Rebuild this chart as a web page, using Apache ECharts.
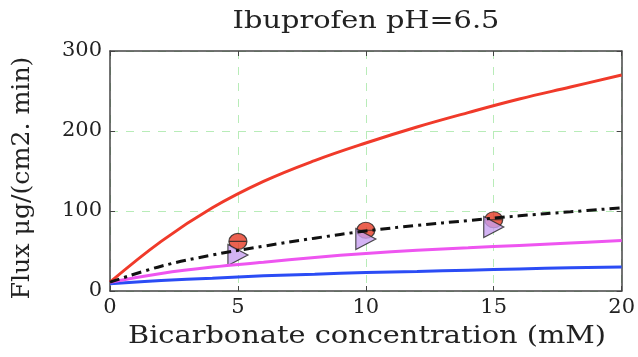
<!DOCTYPE html>
<html>
<head>
<meta charset="utf-8">
<script src="https://cdn.jsdelivr.net/npm/echarts@6/dist/echarts.min.js"></script>
<style>html,body{margin:0;padding:0;background:#fff;}#c{width:638px;height:357px;}</style>
</head>
<body>
<div id="c"></div>
<script>
const xCurve = [0, 2, 4, 6, 8, 10, 12, 14, 16, 18, 20];
const redCurve = [11, 62, 104, 137, 163, 185, 205, 223, 240, 255, 270];
const blackCurve = [11, 31, 45, 56, 66, 75, 82, 88, 94, 99, 104];
const magentaCurve = [11, 22, 30, 36, 42, 47, 51, 54, 57, 60, 63];
const blueCurve = [9, 13, 16, 19, 21, 23, 24.5, 26, 27.5, 29, 30];
const xPts = [5, 10, 15];
const redPts = [62, 76, 89];
const purplePts = [45, 65, 80];
const titleText = 'Ibuprofen pH=6.5';
const xName = 'Bicarbonate concentration (mM)';
const yName = 'Flux μg/(cm2. min)';

const pairs = (xs, ys) => xs.map((x, i) => [x, ys[i]]);
const font = 'DejaVu Serif';
const txt = '#222';
const lbl = (text, size) => ({text, fontFamily: font, fontSize: size, fill: txt, align: 'center', verticalAlign: 'middle'});
const frame = {show: true, onZero: false, lineStyle: {color: '#444', width: 1.5}};
const ticks = {show: true, inside: true, length: 5, lineStyle: {color: '#444'}};
const grid = {show: true, lineStyle: {color: '#b8ecb8', type: [8, 8], width: 1}};

const chart = echarts.init(document.getElementById('c'), null, {renderer: 'canvas'});
chart.setOption({
  animation: false,
  graphic: [
    {type: 'text', x: 366, y: 22, scaleX: 1.2, style: lbl(titleText, 24)},
    {type: 'text', x: 367, y: 337, scaleX: 1.2, style: lbl(xName, 24)},
    {type: 'text', x: 23, y: 178, rotation: Math.PI / 2, scaleX: 1.05, style: lbl(yName, 24)}
  ],
  grid: {left: 110, right: 16, top: 51, bottom: 66, show: false},
  xAxis: [{
    type: 'value', min: 0, max: 20, interval: 5, position: 'bottom',
    axisLine: frame, axisTick: ticks,
    axisLabel: {fontFamily: font, fontSize: 21, color: txt, margin: 6},
    splitLine: grid
  }, {
    type: 'value', min: 0, max: 20, interval: 5, position: 'top',
    axisLine: frame, axisTick: ticks,
    axisLabel: {show: false}, splitLine: {show: false}
  }],
  yAxis: [{
    type: 'value', min: 0, max: 300, interval: 100, position: 'left',
    axisLine: frame, axisTick: ticks,
    axisLabel: {fontFamily: font, fontSize: 21, color: txt, margin: 8},
    splitLine: grid
  }, {
    type: 'value', min: 0, max: 300, interval: 100, position: 'right',
    axisLine: frame, axisTick: ticks,
    axisLabel: {show: false}, splitLine: {show: false}
  }],
  series: [
    {type: 'line', data: pairs(xCurve, blueCurve), smooth: 0.4, showSymbol: false, lineStyle: {color: '#2b4cf5', width: 3}},
    {type: 'line', data: pairs(xCurve, magentaCurve), smooth: 0.4, showSymbol: false, lineStyle: {color: '#ee55f0', width: 3}},
    {type: 'line', data: pairs(xCurve, redCurve), smooth: 0.4, showSymbol: false, lineStyle: {color: '#f03a2a', width: 3}},
    {type: 'scatter', data: pairs(xPts, redPts),
      symbol: 'path://M0,10 A10,10 0 1 1 20,10 A10,10 0 1 1 0,10 Z M0,10 L20,10', symbolSize: [18, 16],
      itemStyle: {color: '#e63a24', borderColor: '#222', borderWidth: 1.2}},
    {type: 'scatter', data: pairs(xPts, purplePts), symbol: 'path://M0,0 L20,10 L0,20 Z', symbolSize: [20, 21],
      itemStyle: {color: '#c8a0f0', borderColor: '#222', borderWidth: 1.2}},
    {type: 'line', data: pairs(xCurve, blackCurve), smooth: 0.4, showSymbol: false, lineStyle: {color: '#111', width: 3, type: [10, 5, 3, 5]}}
  ]
});
</script>
</body>
</html>
